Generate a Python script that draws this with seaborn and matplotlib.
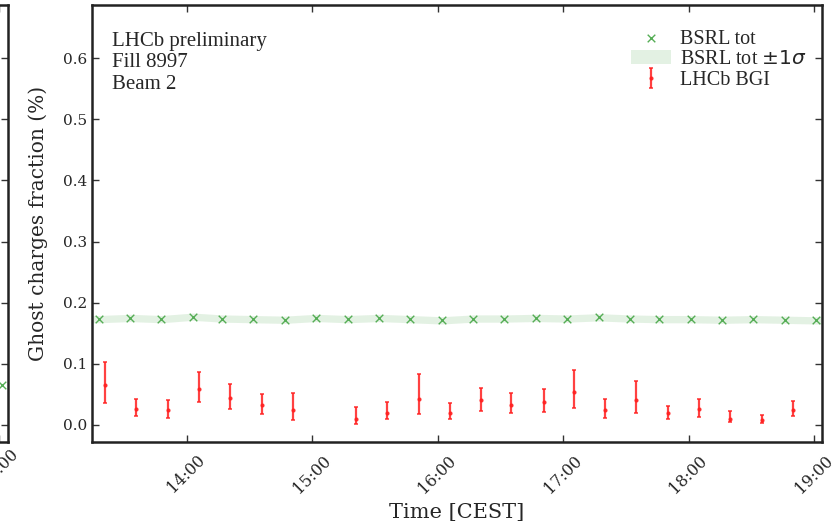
import pandas as pd
import numpy as np
import matplotlib
matplotlib.use('Agg')
import matplotlib.pyplot as plt
import matplotlib.dates as mdates
import seaborn as sns

day = '2023-07-08 '

# BSRL total ghost charge, every ~15 min (first/last entries lie just outside the view)
bsrl_time = ['13:03', '13:18', '13:33', '13:48', '14:03', '14:17', '14:32', '14:47',
             '15:02', '15:17', '15:32', '15:47', '16:02', '16:17', '16:32', '16:47',
             '17:02', '17:17', '17:32', '17:46', '18:01', '18:16', '18:31', '18:46',
             '19:01', '19:16']
bsrl_val = [0.173, 0.173, 0.175, 0.173, 0.177, 0.174, 0.173, 0.172, 0.175,
            0.173, 0.175, 0.173, 0.171, 0.174, 0.174, 0.175, 0.174, 0.176,
            0.174, 0.173, 0.173, 0.172, 0.173, 0.172, 0.171, 0.171]
bsrl_sig = [0.006] * len(bsrl_val)

# LHCb BGI ghost charge with (asymmetric) errors
bgi_time = ['13:21', '13:36', '13:51', '14:06', '14:21', '14:36', '14:51',
            '15:21', '15:36', '15:51', '16:06', '16:21', '16:35', '16:51',
            '17:05', '17:20', '17:35', '17:50', '18:05', '18:20', '18:35', '18:50']
bgi_val = [0.065, 0.026, 0.024, 0.059, 0.044, 0.032, 0.024, 0.010, 0.020, 0.043, 0.020,
           0.040, 0.033, 0.037, 0.054, 0.024, 0.041, 0.019, 0.026, 0.010, 0.008, 0.024]
bgi_hi = [0.103, 0.042, 0.041, 0.086, 0.067, 0.050, 0.052, 0.029, 0.037, 0.083, 0.036,
          0.061, 0.052, 0.059, 0.090, 0.042, 0.072, 0.031, 0.043, 0.023, 0.016, 0.039]
bgi_lo = [0.036, 0.014, 0.012, 0.037, 0.026, 0.018, 0.008, 0.002, 0.010, 0.018, 0.010,
          0.023, 0.019, 0.021, 0.028, 0.012, 0.020, 0.010, 0.013, 0.004, 0.003, 0.014]

# neighbouring panel (beam 1), only its last point shows in the crop
b1_time = ['19:01']
b1_val = [0.065]

yticks = [0.0, 0.1, 0.2, 0.3, 0.4, 0.5, 0.6]

sns.set_style('ticks')
plt.rcParams['font.family'] = ['DejaVu Serif']
plt.rcParams['mathtext.fontset'] = 'dejavusans'

bsrl = pd.DataFrame({'t': pd.to_datetime([day + t for t in bsrl_time]),
                     'v': bsrl_val, 's': bsrl_sig})
bgi = pd.DataFrame({'t': pd.to_datetime([day + t for t in bgi_time]),
                    'v': bgi_val, 'hi': bgi_hi, 'lo': bgi_lo})
b1 = pd.DataFrame({'t': pd.to_datetime([day + t for t in b1_time]), 'v': b1_val})

xlim = (pd.Timestamp(day + '13:14:48'), pd.Timestamp(day + '19:03:50'))
ylim = (-0.028, 0.687)

fig = plt.figure(figsize=(8.35, 5.27), dpi=100)
ax0 = fig.add_axes([0.009 - 0.874, 0.1613, 0.874, 0.8292])
ax = fig.add_axes([0.1102, 0.1613, 0.8743, 0.8292])

green = '#55ad55'

def style_axis(a, xpad=7):
    a.set_xlim(*xlim)
    a.set_ylim(*ylim)
    a.set_yticks(yticks)
    a.xaxis.set_major_locator(mdates.HourLocator())
    a.xaxis.set_major_formatter(mdates.DateFormatter('%H:%M'))
    a.tick_params(direction='in', top=True, right=True, length=5, width=1,
                  labelsize=11, color='#333333')
    a.tick_params(axis='x', labelsize=11.5, pad=xpad)
    for sp in a.spines.values():
        sp.set_linewidth(1.8)
        sp.set_color('#222222')
    plt.setp(a.get_xticklabels(), rotation=45, ha='center')

# left panel fragment
ax0.fill_between(b1['t'], b1['v'] - 0.006, b1['v'] + 0.006, color=green, alpha=0.15, lw=0)
sns.scatterplot(data=b1, x='t', y='v', marker='x', color=green, s=30, linewidth=1,
                ax=ax0, legend=False)
style_axis(ax0, xpad=2)
ax0.set_xlabel('')
ax0.set_ylabel('')

# main panel
band = ax.fill_between(bsrl['t'], bsrl['v'] - bsrl['s'], bsrl['v'] + bsrl['s'],
                       color=green, alpha=0.16, lw=0, label=r'BSRL tot $\pm 1\sigma$')
sns.scatterplot(data=bsrl, x='t', y='v', marker='x', color=green, s=30, linewidth=1,
                ax=ax, label='BSRL tot', legend=False)
eb = ax.errorbar(bgi['t'], bgi['v'],
                 yerr=[bgi['v'] - bgi['lo'], bgi['hi'] - bgi['v']],
                 fmt='.', color='#ff2020', ms=4, elinewidth=1.6, capsize=1.5,
                 capthick=1.2, alpha=0.85, label='LHCb BGI')
style_axis(ax)

ax.set_xlabel('Time [CEST]', fontsize=15, labelpad=5)
ax.set_ylabel('Ghost charges fraction (%)', fontsize=14.5, labelpad=11)

ax.text(0.028, 0.939, 'LHCb preliminary\nFill 8997\nBeam 2', transform=ax.transAxes,
        va='top', ha='left', fontsize=15, linespacing=1.2, family='Liberation Serif')

handles, labels = ax.get_legend_handles_labels()
order = [labels.index('BSRL tot'), labels.index(r'BSRL tot $\pm 1\sigma$'),
         labels.index('LHCb BGI')]
ax.legend([handles[i] for i in order], [labels[i] for i in order],
          loc='upper right', bbox_to_anchor=(1.003, 0.985), frameon=False,
          prop={'family': 'Liberation Serif', 'size': 14.5}, handlelength=2.0,
          labelspacing=0.08, handletextpad=0.4)

fig.savefig('out.png', dpi=100)
